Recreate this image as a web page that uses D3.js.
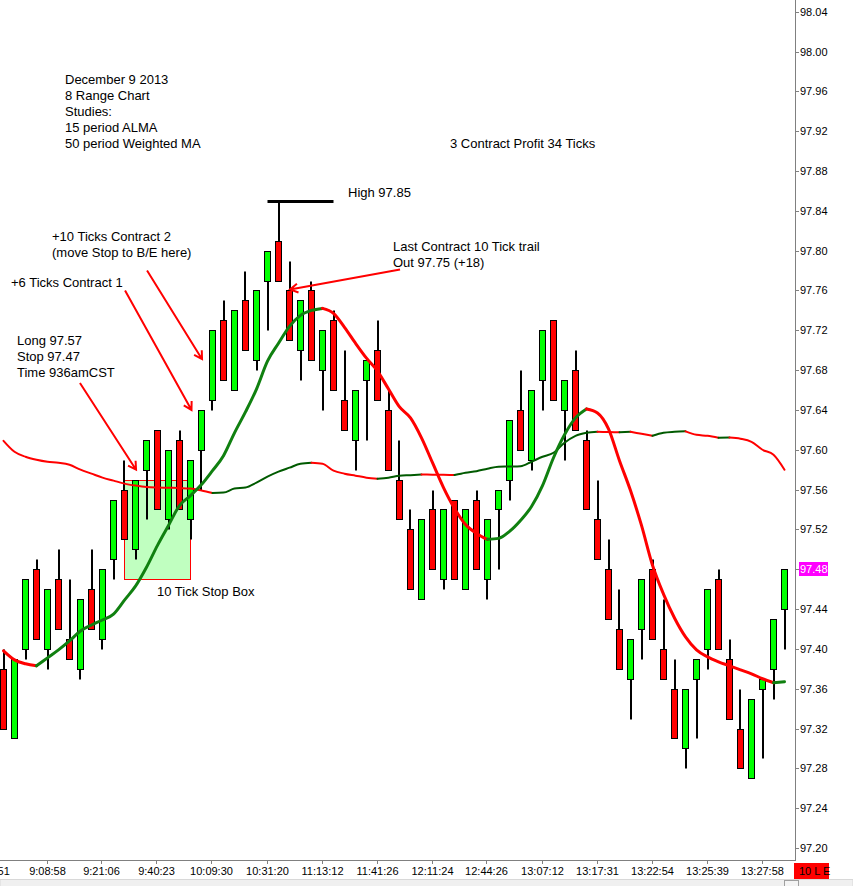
<!DOCTYPE html>
<html>
<head>
<meta charset="utf-8">
<script src="https://cdn.jsdelivr.net/npm/d3@7"></script>
<style>
  body { margin: 0; background: #fff; }
  svg { display: block; font-family: "Liberation Sans", Arial, sans-serif; }
</style>
</head>
<body>
<div id="chart"></div>
<script>
// 8 range bars, CL Dec 9 2013
const opens  = [97.38,97.31,97.40,97.48,97.40,97.47,97.41,97.38,97.46,97.41,97.49,97.56,97.50,97.58,97.62,97.53,97.61,97.53,97.60,97.65,
                97.73,97.66,97.75,97.69,97.77,97.81,97.76,97.70,97.76,97.68,97.73,97.65,97.61,97.67,97.70,97.64,97.57,97.52,97.45,97.54,
                97.47,97.55,97.46,97.55,97.47,97.54,97.57,97.64,97.59,97.67,97.73,97.64,97.68,97.61,97.53,97.48,97.42,97.37,97.42,97.48,
                97.40,97.36,97.30,97.37,97.40,97.47,97.39,97.32,97.27,97.36,97.38,97.44];
const highs  = [97.40,97.39,97.47,97.49,97.46,97.50,97.47,97.45,97.50,97.48,97.55,97.59,97.57,97.61,97.62,97.60,97.62,97.59,97.64,97.72,
                97.75,97.74,97.78,97.76,97.80,97.85,97.79,97.75,97.77,97.72,97.74,97.70,97.66,97.69,97.73,97.66,97.61,97.54,97.53,97.56,
                97.54,97.55,97.54,97.56,97.53,97.56,97.63,97.68,97.66,97.72,97.73,97.67,97.70,97.62,97.57,97.51,97.46,97.41,97.47,97.49,
                97.45,97.39,97.36,97.39,97.46,97.48,97.41,97.36,97.35,97.37,97.43,97.48];
const lows   = [97.32,97.31,97.39,97.41,97.38,97.42,97.39,97.37,97.42,97.40,97.47,97.51,97.49,97.53,97.54,97.52,97.54,97.51,97.56,97.64,
                97.67,97.66,97.70,97.68,97.72,97.77,97.71,97.67,97.69,97.64,97.66,97.62,97.58,97.61,97.65,97.58,97.53,97.46,97.45,97.48,
                97.46,97.47,97.46,97.48,97.45,97.48,97.55,97.60,97.58,97.64,97.65,97.59,97.62,97.54,97.49,97.43,97.38,97.33,97.39,97.41,
                97.37,97.31,97.28,97.31,97.38,97.40,97.33,97.28,97.27,97.29,97.35,97.40];
const closes = [97.32,97.39,97.47,97.41,97.46,97.42,97.39,97.45,97.42,97.48,97.55,97.51,97.57,97.61,97.54,97.60,97.54,97.59,97.64,97.72,
                97.67,97.74,97.70,97.76,97.80,97.77,97.71,97.75,97.69,97.72,97.66,97.62,97.66,97.69,97.65,97.58,97.53,97.46,97.53,97.48,
                97.54,97.47,97.54,97.48,97.53,97.56,97.63,97.60,97.66,97.72,97.65,97.67,97.62,97.54,97.49,97.43,97.38,97.41,97.47,97.41,
                97.37,97.31,97.36,97.39,97.46,97.40,97.33,97.28,97.35,97.37,97.43,97.48];

// 15 period ALMA
const alma = [97.398,97.389,97.385,97.383,97.391,97.399,97.408,97.418,97.424,97.429,97.435,97.449,97.463,97.482,97.504,97.524,97.544,97.554,97.565,97.579,
              97.594,97.617,97.638,97.661,97.689,97.707,97.724,97.735,97.740,97.742,97.737,97.723,97.707,97.692,97.679,97.661,97.643,97.632,97.612,97.587,
              97.562,97.541,97.525,97.516,97.510,97.511,97.518,97.529,97.543,97.564,97.592,97.615,97.632,97.641,97.637,97.621,97.589,97.559,97.524,97.484,
              97.455,97.431,97.412,97.399,97.392,97.387,97.383,97.379,97.375,97.370,97.366,97.367];

// 50 period weighted MA
const wma = [97.609,97.598,97.593,97.590,97.588,97.587,97.585,97.580,97.576,97.572,97.569,97.566,97.564,97.5625,97.562,97.5618,97.5615,97.561,97.559,97.5565,
             97.557,97.561,97.562,97.567,97.573,97.578,97.582,97.586,97.587,97.586,97.579,97.576,97.574,97.572,97.571,97.572,97.574,97.5745,97.5752,97.5750,
             97.5748,97.5747,97.577,97.5785,97.581,97.583,97.5832,97.5835,97.588,97.593,97.597,97.607,97.614,97.617,97.618,97.6178,97.6176,97.618,97.616,97.614,
             97.617,97.618,97.6185,97.615,97.614,97.612,97.6122,97.611,97.608,97.600,97.595,97.580];

const timeTicks  = [-1, 4, 9, 14, 19, 24, 29, 34, 39, 44, 49, 54, 59, 64, 69];
const timeLabels = ["9:01:51","9:08:58","9:21:06","9:40:23","10:09:30","10:31:20","11:13:12","11:41:26",
                    "12:11:24","12:44:26","13:07:12","13:17:31","13:22:54","13:25:39","13:27:58"];

const priceTicks = d3.range(0, 22).map(k => +(97.20 + k * 0.04).toFixed(2));
const lastPrice = 97.48;

const width = 853, height = 886;
const plotRight = 796, plotBottom = 861;

const svg = d3.select("#chart").append("svg")
  .attr("width", width)
  .attr("height", height);

const x = d3.scaleLinear().domain([0, opens.length - 1]).range([3.5, 784.5]);
const y = d3.scaleLinear().domain([97.20, 98.04]).range([848, 11.7]);
const py = v => Math.round(y(v)) + 0.5;

svg.append("clipPath").attr("id", "plot")
  .append("rect").attr("x", 0).attr("y", 0).attr("width", plotRight).attr("height", plotBottom);

const plot = svg.append("g").attr("clip-path", "url(#plot)");

// stop box (entry 97.57, stop 97.47)
plot.append("rect")
  .attr("x", x(11)).attr("y", py(97.57))
  .attr("width", x(17) - x(11)).attr("height", py(97.47) - py(97.57))
  .attr("fill", "#c0ffc0")
  .attr("stroke", "#ff0000")
  .attr("stroke-width", 1);

// candles
const bars = d3.range(opens.length).map(i => ({
  i, o: opens[i], h: highs[i], l: lows[i], c: closes[i]
}));

const candle = plot.append("g").selectAll("g")
  .data(bars)
  .join("g");

candle.append("line")
  .attr("x1", d => Math.round(x(d.i))).attr("x2", d => Math.round(x(d.i)))
  .attr("y1", d => py(d.h)).attr("y2", d => py(d.l))
  .attr("stroke", "#000")
  .attr("stroke-width", 2);

candle.append("rect")
  .attr("x", d => x(d.i) - 3)
  .attr("y", d => py(Math.max(d.o, d.c)))
  .attr("width", 6)
  .attr("height", d => Math.max(1, py(Math.min(d.o, d.c)) - py(Math.max(d.o, d.c))))
  .attr("fill", d => d.c >= d.o ? "#00ff00" : "#ff0000")
  .attr("stroke", "#000")
  .attr("stroke-width", 1);

// moving averages, coloured by slope
function slopeRuns(vals) {
  const runs = [];
  for (let i = 1; i < vals.length; i++) {
    const up = vals[i] >= vals[i - 1];
    const last = runs[runs.length - 1];
    if (last && last.up === up) last.pts.push(i);
    else runs.push({ up, pts: [i - 1, i] });
  }
  return runs;
}

function drawMA(vals, upColor, downColor, w) {
  const line = d3.line().x(i => x(i)).y(i => y(vals[i])).curve(d3.curveMonotoneX);
  plot.append("g").selectAll("path")
    .data(slopeRuns(vals))
    .join("path")
    .attr("d", d => line(d.pts))
    .attr("fill", "none")
    .attr("stroke", d => d.up ? upColor : downColor)
    .attr("stroke-width", w)
    .attr("stroke-linecap", "round")
    .attr("stroke-linejoin", "round");
}

drawMA(wma, "#005a00", "#ff0000", 2);
drawMA(alma, "#108010", "#ff0000", 3);

// high marker
plot.append("line")
  .attr("x1", x(24)).attr("x2", x(30))
  .attr("y1", py(97.85)).attr("y2", py(97.85))
  .attr("stroke", "#000")
  .attr("stroke-width", 3);

// arrows: [from index, from price, to index, to price]
const arrows = [
  [6.95, 97.667, 12.05, 97.580],
  [11.05, 97.760, 17.09, 97.640],
  [13.05, 97.780, 18.05, 97.691],
  [36.05, 97.781, 26.05, 97.761]
];

arrows.forEach(([i0, p0, i1, p1]) => {
  const x0 = x(i0), y0 = y(p0), x1 = x(i1), y1 = y(p1);
  const back = Math.atan2(y0 - y1, x0 - x1);
  const len = 9, spread = Math.PI / 6;
  const head = [back - spread, back + spread].map(a => [x1 + len * Math.cos(a), y1 + len * Math.sin(a)]);
  plot.append("path")
    .attr("d", `M${x0},${y0}L${x1},${y1}M${head[0][0]},${head[0][1]}L${x1},${y1}L${head[1][0]},${head[1][1]}`)
    .attr("fill", "none")
    .attr("stroke", "#ff0000")
    .attr("stroke-width", 2);
});

// notes
const notes = [
  { x: 65, y: 84, lines: ["December 9 2013", "8 Range Chart", "Studies:", "15 period ALMA", "50 period Weighted MA"] },
  { x: 450, y: 148, lines: ["3 Contract Profit 34 Ticks"] },
  { x: 348, y: 197, lines: ["High 97.85"] },
  { x: 52, y: 241, lines: ["+10 Ticks Contract 2", "(move Stop to B/E here)"] },
  { x: 393, y: 251, lines: ["Last Contract 10 Tick trail", "Out 97.75 (+18)"] },
  { x: 11, y: 287, lines: ["+6 Ticks Contract 1"] },
  { x: 17, y: 345, lines: ["Long 97.57", "Stop 97.47", "Time 936amCST"] },
  { x: 157, y: 596, lines: ["10 Tick Stop Box"] }
];

notes.forEach(n => {
  const t = svg.append("text")
    .attr("x", n.x).attr("y", n.y)
    .attr("font-size", 13)
    .attr("fill", "#000");
  n.lines.forEach((s, k) => t.append("tspan").attr("x", n.x).attr("dy", k ? 16 : 0).text(s));
});

// price axis
svg.append("line")
  .attr("x1", plotRight - 0.5).attr("x2", plotRight - 0.5)
  .attr("y1", 0).attr("y2", plotBottom)
  .attr("stroke", "#808080");

const yTick = svg.append("g").selectAll("g")
  .data(priceTicks)
  .join("g")
  .attr("transform", d => `translate(0,${py(d)})`);

yTick.append("line")
  .attr("x1", plotRight).attr("x2", plotRight + 3)
  .attr("stroke", "#808080");

yTick.append("text")
  .attr("x", plotRight + 4).attr("dy", "0.35em")
  .attr("font-size", 11)
  .attr("fill", "#000")
  .text(d => d3.format(".2f")(d));

// last price marker
svg.append("rect")
  .attr("x", 799).attr("y", py(lastPrice) - 7.5)
  .attr("width", 29).attr("height", 14)
  .attr("fill", "#ff00ff");
svg.append("text")
  .attr("x", 800).attr("y", py(lastPrice)).attr("dy", "0.35em")
  .attr("font-size", 11)
  .attr("fill", "#fff")
  .text(d3.format(".2f")(lastPrice));

// time axis
svg.append("line")
  .attr("x1", 0).attr("x2", plotRight)
  .attr("y1", plotBottom - 0.5).attr("y2", plotBottom - 0.5)
  .attr("stroke", "#808080");

const xAxis = svg.append("g").attr("clip-path", "url(#timeclip)");
svg.append("clipPath").attr("id", "timeclip")
  .append("rect").attr("x", 0).attr("y", plotBottom).attr("width", plotRight).attr("height", 20);

const xTick = xAxis.selectAll("g")
  .data(timeTicks)
  .join("g")
  .attr("transform", d => `translate(${Math.round(x(d)) - 0.5},0)`);

xTick.append("line")
  .attr("y1", plotBottom).attr("y2", plotBottom + 3)
  .attr("stroke", "#808080");

xTick.append("text")
  .attr("y", 875)
  .attr("text-anchor", "middle")
  .attr("font-size", 11)
  .attr("fill", "#000")
  .text((d, k) => timeLabels[k]);

// strategy position tag
svg.append("rect")
  .attr("x", 794).attr("y", 863)
  .attr("width", 35).attr("height", 16)
  .attr("fill", "#ff0000");
svg.append("text")
  .attr("x", 799).attr("y", 875)
  .attr("font-size", 11)
  .attr("fill", "#000")
  .text("10 L E");

// scrollbar strip
svg.append("rect")
  .attr("x", 0).attr("y", 879.5)
  .attr("width", width).attr("height", 7)
  .attr("fill", "#f0f0f0")
  .attr("stroke", "#d8d8d8");
svg.append("rect")
  .attr("x", 784.5).attr("y", 880.5)
  .attr("width", 14).attr("height", 6)
  .attr("fill", "#f4f4f4")
  .attr("stroke", "#a0a0a0");
</script>
</body>
</html>
